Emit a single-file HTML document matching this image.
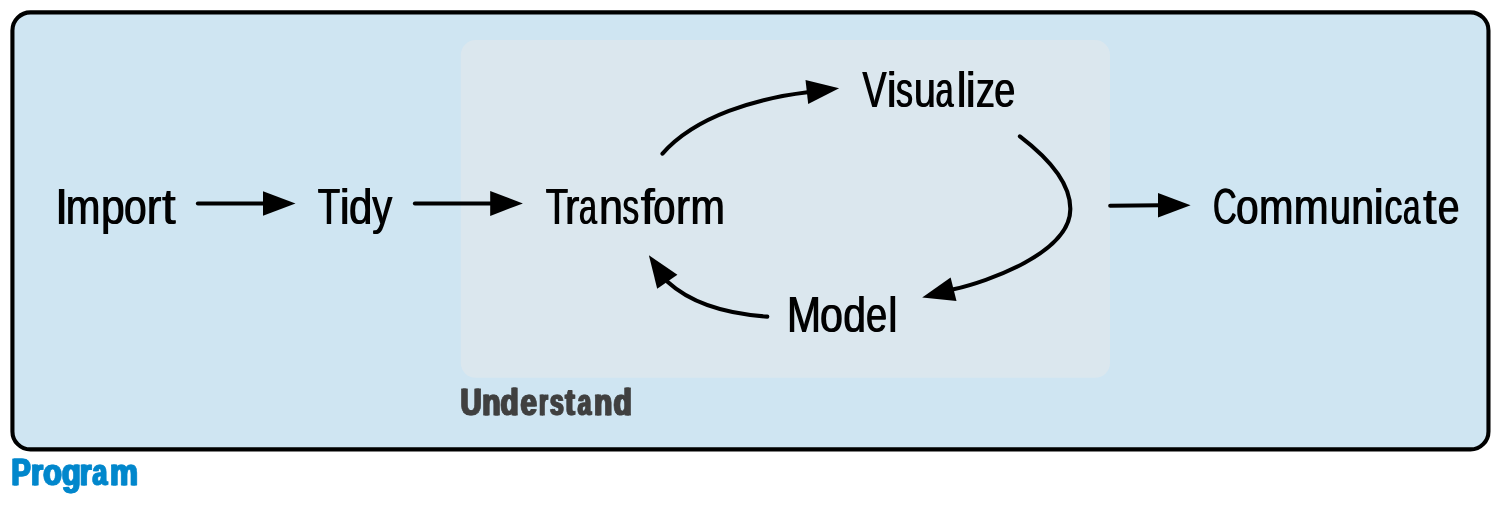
<!DOCTYPE html>
<html><head><meta charset="utf-8"><style>
html,body{margin:0;padding:0;background:#fff;}
svg{display:block;}
text{font-family:"Liberation Sans",sans-serif;}
</style></head><body>
<svg width="1504" height="508" viewBox="0 0 1504 508">
<rect x="12.43" y="12.4" width="1476.04" height="437.0" rx="18" ry="18" fill="#CFE5F2" stroke="#000" stroke-width="4.1"/>
<rect x="460.8" y="40.1" width="649.2" height="337.7" rx="15" ry="15" fill="#DBE7EE"/>
<g stroke="#000" stroke-width="4.1" stroke-linecap="round" fill="none">
<path d="M197.9 203.45 H265"/>
<path d="M414.9 203.45 H492"/>
<path d="M1110.2 205.8 L1160 205.3"/>
<path d="M662.5 153.6 C696 115.6 757.9 98.2 807.5 92.3"/>
<path d="M1019.9 136.3 C1041.3 152.6 1070.9 180.2 1070.3 209.5 C1069.8 253.2 987 281.8 953.5 289.3"/>
<path d="M767.3 316.6 C732.3 314.3 694.7 306.8 667.5 281.8"/>
</g>
<g fill="#000">
<polygon points="263,191.2 295.5,203.45 263,215.8"/>
<polygon points="490.2,191 522.9,203.45 490.2,215.9"/>
<polygon points="1158,193.1 1190.6,205.2 1158,217.4"/>
<polygon points="805.5,80.1 839.1,88.3 808.2,104"/>
<polygon points="950.6,277.5 922.2,297.4 956.5,301.1"/>
<polygon points="677.4,274.7 648.9,255.3 657.2,288.8"/>
</g>
<g opacity="0.999">
<g font-size="50.5" font-weight="400" fill="#000"><text transform="translate(54.42 224) scale(0.9412 1)">I</text><text transform="translate(55.42 224) scale(0.9412 1)">I</text><text transform="translate(65.20 224) scale(0.8244 1)">m</text><text transform="translate(66.20 224) scale(0.8244 1)">m</text><text transform="translate(100.42 224) scale(0.8438 1)">p</text><text transform="translate(101.42 224) scale(0.8438 1)">p</text><text transform="translate(123.59 224) scale(0.8081 1)">o</text><text transform="translate(124.59 224) scale(0.8081 1)">o</text><text transform="translate(146.35 224) scale(0.8679 1)">r</text><text transform="translate(147.35 224) scale(0.8679 1)">r</text><text transform="translate(161.43 224) scale(0.9778 1)">t</text><text transform="translate(162.43 224) scale(0.9778 1)">t</text></g>
<g font-size="50.5" font-weight="400" fill="#000"><text transform="translate(317.36 224) scale(0.7281 1)">T</text><text transform="translate(318.36 224) scale(0.7281 1)">T</text><text transform="translate(339.17 224) scale(0.8890 1)">i</text><text transform="translate(340.17 224) scale(0.8890 1)">i</text><text transform="translate(348.40 224) scale(0.8302 1)">d</text><text transform="translate(349.40 224) scale(0.8302 1)">d</text><text transform="translate(371.64 224) scale(0.7924 1)">y</text><text transform="translate(372.64 224) scale(0.7924 1)">y</text></g>
<g font-size="50.5" font-weight="400" fill="#000"><text transform="translate(545.25 224) scale(0.7266 1)">T</text><text transform="translate(546.25 224) scale(0.7266 1)">T</text><text transform="translate(564.52 224) scale(0.8506 1)">r</text><text transform="translate(565.52 224) scale(0.8506 1)">r</text><text transform="translate(578.55 224) scale(0.6383 1)">a</text><text transform="translate(579.55 224) scale(0.6383 1)">a</text><text transform="translate(598.43 224) scale(0.8556 1)">n</text><text transform="translate(599.43 224) scale(0.8556 1)">n</text><text transform="translate(622.06 224) scale(0.6554 1)">s</text><text transform="translate(623.06 224) scale(0.6554 1)">s</text><text transform="translate(640.15 224) scale(0.9942 1)">f</text><text transform="translate(641.15 224) scale(0.9942 1)">f</text><text transform="translate(652.86 224) scale(0.7915 1)">o</text><text transform="translate(653.86 224) scale(0.7915 1)">o</text><text transform="translate(675.46 224) scale(0.8327 1)">r</text><text transform="translate(676.46 224) scale(0.8327 1)">r</text><text transform="translate(689.88 224) scale(0.8184 1)">m</text><text transform="translate(690.88 224) scale(0.8184 1)">m</text></g>
<g font-size="50.5" font-weight="400" fill="#000"><text transform="translate(861.96 107) scale(0.7131 1)">V</text><text transform="translate(862.96 107) scale(0.7131 1)">V</text><text transform="translate(886.30 107) scale(0.8821 1)">i</text><text transform="translate(887.30 107) scale(0.8821 1)">i</text><text transform="translate(895.54 107) scale(0.6700 1)">s</text><text transform="translate(896.54 107) scale(0.6700 1)">s</text><text transform="translate(913.39 107) scale(0.7769 1)">u</text><text transform="translate(914.39 107) scale(0.7769 1)">u</text><text transform="translate(935.12 107) scale(0.6428 1)">a</text><text transform="translate(936.12 107) scale(0.6428 1)">a</text><text transform="translate(956.28 107) scale(0.8678 1)">l</text><text transform="translate(957.28 107) scale(0.8678 1)">l</text><text transform="translate(965.17 107) scale(0.8890 1)">i</text><text transform="translate(966.17 107) scale(0.8890 1)">i</text><text transform="translate(975.46 107) scale(0.7496 1)">z</text><text transform="translate(976.46 107) scale(0.7496 1)">z</text><text transform="translate(993.65 107) scale(0.7480 1)">e</text><text transform="translate(994.65 107) scale(0.7480 1)">e</text></g>
<g font-size="50.5" font-weight="400" fill="#000"><text transform="translate(786.42 332) scale(0.8088 1)">M</text><text transform="translate(787.42 332) scale(0.8088 1)">M</text><text transform="translate(819.48 332) scale(0.8170 1)">o</text><text transform="translate(820.48 332) scale(0.8170 1)">o</text><text transform="translate(842.74 332) scale(0.8086 1)">d</text><text transform="translate(843.74 332) scale(0.8086 1)">d</text><text transform="translate(865.62 332) scale(0.7531 1)">e</text><text transform="translate(866.62 332) scale(0.7531 1)">e</text><text transform="translate(887.87 332) scale(0.8186 1)">l</text><text transform="translate(888.87 332) scale(0.8186 1)">l</text></g>
<g font-size="50.5" font-weight="400" fill="#000"><text transform="translate(1212.42 224) scale(0.6512 1)">C</text><text transform="translate(1213.42 224) scale(0.6512 1)">C</text><text transform="translate(1235.45 224) scale(0.8070 1)">o</text><text transform="translate(1236.45 224) scale(0.8070 1)">o</text><text transform="translate(1258.52 224) scale(0.8214 1)">m</text><text transform="translate(1259.52 224) scale(0.8214 1)">m</text><text transform="translate(1293.24 224) scale(0.8295 1)">m</text><text transform="translate(1294.24 224) scale(0.8295 1)">m</text><text transform="translate(1329.44 224) scale(0.7438 1)">u</text><text transform="translate(1330.44 224) scale(0.7438 1)">u</text><text transform="translate(1350.65 224) scale(0.8138 1)">n</text><text transform="translate(1351.65 224) scale(0.8138 1)">n</text><text transform="translate(1372.95 224) scale(0.9290 1)">i</text><text transform="translate(1373.95 224) scale(0.9290 1)">i</text><text transform="translate(1383.93 224) scale(0.7119 1)">c</text><text transform="translate(1384.93 224) scale(0.7119 1)">c</text><text transform="translate(1402.58 224) scale(0.6173 1)">a</text><text transform="translate(1403.58 224) scale(0.6173 1)">a</text><text transform="translate(1422.44 224) scale(0.9704 1)">t</text><text transform="translate(1423.44 224) scale(0.9704 1)">t</text><text transform="translate(1437.35 224) scale(0.7736 1)">e</text><text transform="translate(1438.35 224) scale(0.7736 1)">e</text></g>
<g font-size="37.8" font-weight="700" fill="#404040" stroke="#404040" stroke-width="0.8" stroke-linejoin="round"><text transform="translate(459.78 415) scale(0.7675 1)">U</text><text transform="translate(461.38 415) scale(0.7675 1)">U</text><text transform="translate(481.44 415) scale(0.7920 1)">n</text><text transform="translate(483.04 415) scale(0.7920 1)">n</text><text transform="translate(499.70 415) scale(0.7824 1)">d</text><text transform="translate(501.30 415) scale(0.7824 1)">d</text><text transform="translate(519.69 415) scale(0.7798 1)">e</text><text transform="translate(521.29 415) scale(0.7798 1)">e</text><text transform="translate(538.58 415) scale(0.5581 1)">r</text><text transform="translate(540.18 415) scale(0.5581 1)">r</text><text transform="translate(549.31 415) scale(0.6397 1)">s</text><text transform="translate(550.91 415) scale(0.6397 1)">s</text><text transform="translate(564.38 415) scale(0.7557 1)">t</text><text transform="translate(565.98 415) scale(0.7557 1)">t</text><text transform="translate(576.89 415) scale(0.6369 1)">a</text><text transform="translate(578.49 415) scale(0.6369 1)">a</text><text transform="translate(593.34 415) scale(0.7793 1)">n</text><text transform="translate(594.94 415) scale(0.7793 1)">n</text><text transform="translate(612.83 415) scale(0.7825 1)">d</text><text transform="translate(614.43 415) scale(0.7825 1)">d</text></g>
<g font-size="37.8" font-weight="700" fill="#0087CC" stroke="#0087CC" stroke-width="0.8" stroke-linejoin="round"><text transform="translate(10.68 485) scale(0.7578 1)">P</text><text transform="translate(12.28 485) scale(0.7578 1)">P</text><text transform="translate(30.28 485) scale(0.7938 1)">r</text><text transform="translate(31.88 485) scale(0.7938 1)">r</text><text transform="translate(42.60 485) scale(0.7905 1)">o</text><text transform="translate(44.20 485) scale(0.7905 1)">o</text><text transform="translate(61.18 485) scale(0.8089 1)">g</text><text transform="translate(62.78 485) scale(0.8089 1)">g</text><text transform="translate(79.00 485) scale(0.7961 1)">r</text><text transform="translate(80.60 485) scale(0.7961 1)">r</text><text transform="translate(91.64 485) scale(0.6999 1)">a</text><text transform="translate(93.24 485) scale(0.6999 1)">a</text><text transform="translate(109.14 485) scale(0.8334 1)">m</text><text transform="translate(110.74 485) scale(0.8334 1)">m</text></g>
</g>
</svg>
</body></html>
